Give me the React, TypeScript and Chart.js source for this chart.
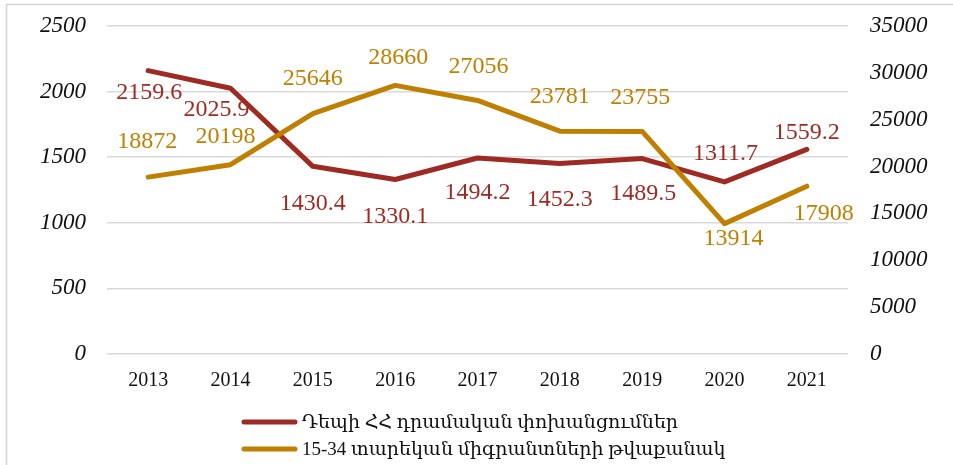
import React, { useEffect, useRef } from "react";
import { Chart, registerables } from "chart.js";

Chart.register(...registerables);

const years = ["2013", "2014", "2015", "2016", "2017", "2018", "2019", "2020", "2021"];
const remittances = [2159.6, 2025.9, 1430.4, 1330.1, 1494.2, 1452.3, 1489.5, 1311.7, 1559.2];
const migrants = [18872, 20198, 25646, 28660, 27056, 23781, 23755, 13914, 17908];
const remittanceName = "Դեպի ՀՀ դրամական փոխանցումներ";
const migrantName = "15-34 տարեկան միգրանտների թվաքանակ";
const leftMax = 2500;
const leftStep = 500;
const rightMax = 35000;
const rightStep = 5000;

// label placement offsets (px) relative to each point
const remitLabelOffsets = [[1, 22], [-14, 22], [0, 37], [0, 37], [0, 35], [0, 36], [1, 35], [1, -28], [0, -17]];
const migrantLabelOffsets = [[-1, -35], [-5, -28], [0, -35], [3, -28], [1, -34], [0, -34], [-2, -34], [9, 15], [17, 28]];

const RED = "#9E2A24";
const GOLD = "#BF7F00";
const SERIF = "'Liberation Serif', 'DejaVu Serif', serif";

const borderPlugin = {
  id: "outerBorder",
  beforeDraw(chart: any) {
    const ctx = chart.ctx;
    ctx.save();
    ctx.fillStyle = "#ffffff";
    ctx.fillRect(0, 0, chart.width, chart.height);
    ctx.strokeStyle = "#d4d4d4";
    ctx.lineWidth = 1.5;
    ctx.strokeRect(6.5, 4.5, 1000, 1000);
    ctx.restore();
  },
};

const labelPlugin = {
  id: "pointLabels",
  afterDatasetsDraw(chart: any) {
    const ctx = chart.ctx;
    ctx.save();
    ctx.font = `24px ${SERIF}`;
    ctx.textAlign = "center";
    ctx.textBaseline = "middle";
    chart.data.datasets.forEach((ds: any, di: number) => {
      const meta = chart.getDatasetMeta(di);
      const offs = di === 0 ? remitLabelOffsets : migrantLabelOffsets;
      ctx.fillStyle = ds.borderColor;
      meta.data.forEach((pt: any, i: number) => {
        const v = ds.data[i];
        const txt = di === 0 ? v.toFixed(1) : String(v);
        ctx.fillText(txt, pt.x + offs[i][0], pt.y + offs[i][1]);
      });
    });
    ctx.restore();
  },
};

const legendPlugin = {
  id: "customLegend",
  afterDraw(chart: any) {
    const ctx = chart.ctx;
    const area = chart.chartArea;
    const x0 = area.left + 135;
    ctx.save();
    ctx.font = `19px ${SERIF}`;
    ctx.textBaseline = "middle";
    ctx.textAlign = "left";
    chart.data.datasets.forEach((ds: any, i: number) => {
      const y = area.bottom + 68 + i * 27;
      ctx.strokeStyle = ds.borderColor;
      ctx.lineWidth = 5;
      ctx.lineCap = "round";
      ctx.beginPath();
      ctx.moveTo(x0 + 2, y);
      ctx.lineTo(x0 + 53, y);
      ctx.stroke();
      ctx.fillStyle = "#111111";
      ctx.fillText(ds.label, x0 + 60, y + 1);
    });
    ctx.restore();
  },
};

export default function App() {
  const ref = useRef<HTMLCanvasElement | null>(null);

  useEffect(() => {
    if (!ref.current) return;
    const chart = new Chart(ref.current, {
      type: "line",
      data: {
        labels: years,
        datasets: [
          {
            label: remittanceName,
            data: remittances,
            borderColor: RED,
            backgroundColor: RED,
            borderWidth: 5,
            pointRadius: 0,
            tension: 0,
            borderCapStyle: "round",
            borderJoinStyle: "round",
            yAxisID: "y",
            order: 1,
          },
          {
            label: migrantName,
            data: migrants,
            borderColor: GOLD,
            backgroundColor: GOLD,
            borderWidth: 5,
            pointRadius: 0,
            tension: 0,
            borderCapStyle: "round",
            borderJoinStyle: "round",
            yAxisID: "y1",
            order: 0,
          },
        ],
      },
      options: {
        responsive: false,
        animation: false,
        devicePixelRatio: 1,
        layout: { padding: { top: 26, bottom: 66, left: 0, right: 0 } },
        plugins: {
          legend: { display: false },
          tooltip: { enabled: false },
        },
        scales: {
          x: {
            offset: true,
            grid: { display: false, drawTicks: false },
            border: { display: false },
            ticks: {
              color: "#111111",
              font: { family: SERIF, size: 20 },
              padding: 15,
              maxRotation: 0,
            },
            afterFit(scale: any) {
              scale.height = 45;
            },
          },
          y: {
            position: "left",
            min: 0,
            max: leftMax,
            grid: { color: "#d9d9d9", lineWidth: 1.5, drawTicks: false },
            border: { display: false },
            ticks: {
              stepSize: leftStep,
              color: "#111111",
              font: { family: SERIF, size: 23, style: "italic" },
              padding: 21,
              callback: (v: any) => String(v),
            },
            afterFit(scale: any) {
              scale.width = 107;
              scale.paddingTop = 0;
              scale.paddingBottom = 0;
            },
          },
          y1: {
            position: "right",
            min: 0,
            max: rightMax,
            grid: { display: false, drawTicks: false },
            border: { display: false },
            ticks: {
              stepSize: rightStep,
              color: "#111111",
              font: { family: SERIF, size: 23, style: "italic" },
              padding: 22,
              callback: (v: any) => String(v),
            },
            afterFit(scale: any) {
              scale.width = 105;
              scale.paddingTop = 0;
              scale.paddingBottom = 0;
            },
          },
        },
      },
      plugins: [borderPlugin, labelPlugin, legendPlugin],
    } as any);
    return () => chart.destroy();
  }, []);

  return (
    <div style={{ position: "fixed", left: 0, top: 0, width: 953, height: 465, background: "#fff" }}>
      <canvas ref={ref} width={953} height={465} style={{ display: "block", width: 953, height: 465 }} />
    </div>
  );
}
